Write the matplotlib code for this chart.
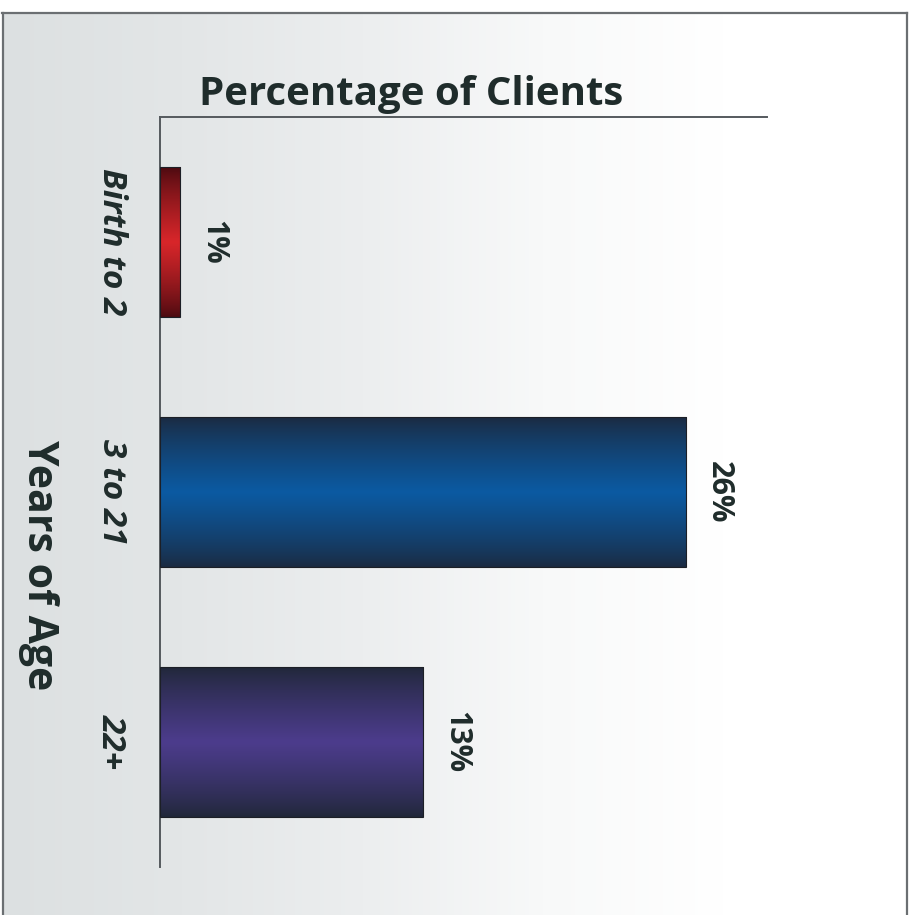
import numpy as np
import matplotlib
matplotlib.use("Agg")
import matplotlib.pyplot as plt
from matplotlib.colors import LinearSegmentedColormap
from matplotlib.lines import Line2D

# Data
categories = ["Birth to 2", "3 to 21", "22+"]
percentages = [1, 26, 13]
value_labels = ["1%", "26%", "13%"]

# Bar shading: (edge colour, centre colour)
bar_shades = [("#4a0a10", "#d8262a"),
              ("#1b2a40", "#0b5aa2"),
              ("#202738", "#4c3c8c")]

TEXT = "#1f2c2b"
FONT = ["Open Sans", "DejaVu Sans"]

W, H, DPI = 916, 915, 100
fig = plt.figure(figsize=(W / DPI, H / DPI), dpi=DPI)
fig.patch.set_facecolor("white")

# Page background: grey on the left fading to white on the right
bg = fig.add_axes([2 / W, 0, (907 - 2) / W, 1 - 13 / H], zorder=0)
grad = np.linspace(0, 1, 256)[None, :]
bg_cmap = LinearSegmentedColormap.from_list(
    "page", ["#dce0e1", "#e3e6e7", "#eceeef", "#f8f9f9", "#ffffff", "#ffffff"])
bg.imshow(grad, aspect="auto", cmap=bg_cmap, extent=[0, 1, 0, 1])
bg.set_xlim(0, 1)
bg.set_ylim(0, 1)
bg.axis("off")

# Frame around the page (top, left, right)
for xs, ys in [((2, 907), (H - 13, H - 13)),
               ((2.5, 2.5), (0, H - 13)),
               ((907, 907), (0, H - 13))]:
    fig.add_artist(Line2D([x / W for x in xs], [y / H for y in ys],
                          color="#6b6f72", lw=1.6, transform=fig.transFigure))

# Main plot area
left, right, top, bottom = 160, 767, 117, 867
ax = fig.add_axes([left / W, 1 - bottom / H, (right - left) / W,
                   (bottom - top) / H], zorder=1)
ax.patch.set_alpha(0)

y = np.arange(len(categories))
bars = ax.barh(y, percentages, height=0.6, color="none",
               edgecolor="#1c1f26", linewidth=0.8, zorder=3)

# Vertical shading inside each bar: dark edges, bright middle
t = np.linspace(0, 1, 200)
profile = np.clip(1 - np.abs(t - 0.5) * 2, 0, 1) ** 0.8
for bar, (dark, light) in zip(bars, bar_shades):
    cmap = LinearSegmentedColormap.from_list("b", [dark, light])
    x0, y0 = bar.get_x(), bar.get_y()
    w, h = bar.get_width(), bar.get_height()
    im = ax.imshow(profile[:, None], aspect="auto", cmap=cmap,
                   extent=[x0, x0 + w, y0 + h, y0], zorder=2,
                   interpolation="bilinear")
    im.set_clip_path(bar)

ax.set_xlim(0, 30)
ax.set_ylim(2.5, -0.5)

for side in ["right", "bottom"]:
    ax.spines[side].set_visible(False)
for side in ["left", "top"]:
    ax.spines[side].set_color("#555a5e")
    ax.spines[side].set_linewidth(1.4)
ax.set_xticks([])
ax.set_yticks([])

# Category labels, rotated to read downward
for yi, cat in zip(y, categories):
    ax.annotate(cat, xy=(0, yi), xycoords="data",
                xytext=(-49, 0), textcoords="offset pixels",
                rotation=-90, ha="center", va="center",
                fontsize=24, fontweight="bold", fontstyle="italic",
                color=TEXT, family=FONT)

# Value labels beyond each bar end
for yi, val, lab in zip(y, percentages, value_labels):
    ax.annotate(lab, xy=(val, yi), xycoords="data",
                xytext=(33, 0), textcoords="offset pixels",
                rotation=-90, ha="center", va="center",
                fontsize=22, fontweight="bold",
                color=TEXT, family=FONT)

# Title and axis label
fig.text(411 / W, 1 - 94 / H, "Percentage of Clients", ha="center",
         va="center", fontsize=29, fontweight="bold", color=TEXT, family=FONT)
fig.text(38 / W, 1 - 565 / H, "Years of Age", ha="center", va="center",
         rotation=-90, fontsize=29.5, fontweight="bold", color=TEXT, family=FONT)

fig.savefig("out.png", dpi=DPI)
